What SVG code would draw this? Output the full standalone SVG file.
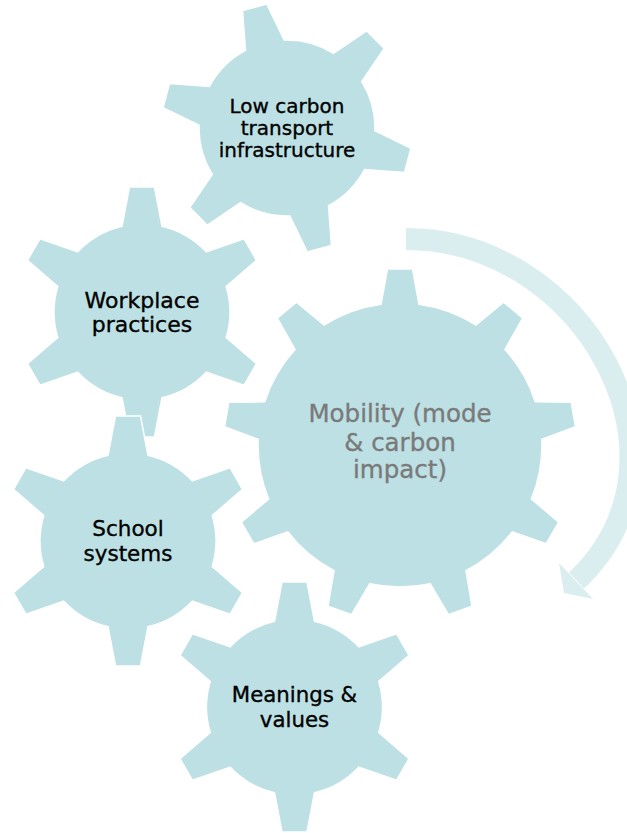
<svg xmlns="http://www.w3.org/2000/svg" xmlns:xlink="http://www.w3.org/1999/xlink" width="627" height="833" viewBox="0 0 627 833">
<style>
.gear{fill:#bce0e3;stroke:#ffffff;stroke-width:1.5}
.lbl{font-family:"DejaVu Sans","Verdana",sans-serif;fill:#000000;stroke:#000000;stroke-width:0.35;text-anchor:middle}
.lbl2{font-family:"DejaVu Sans","Verdana",sans-serif;fill:#7a7a7a;stroke:#7a7a7a;stroke-width:0.35;text-anchor:middle}
.arrow{fill:none;stroke:#daeef0;stroke-width:22}
.head{fill:#daeef0}
</style>
<defs>
<path id="g6" d="M -20,-85.7 L -12.5,-125 L 12.5,-125 L 20,-85.7 A 88 88 0 0 1 64.22,-60.17 L 102,-73.33 L 114.5,-51.68 L 84.22,-25.53 A 88 88 0 0 1 84.22,25.53 L 114.5,51.68 L 102,73.33 L 64.22,60.17 A 88 88 0 0 1 20,85.7 L 12.5,125 L -12.5,125 L -20,85.7 A 88 88 0 0 1 -64.22,60.17 L -102,73.33 L -114.5,51.68 L -84.22,25.53 A 88 88 0 0 1 -84.22,-25.53 L -114.5,-51.68 L -102,-73.33 L -64.22,-60.17 A 88 88 0 0 1 -20,-85.7 Z"/>
<path id="g9" d="M -19,-140.72 L -12.5,-176 L 12.5,-176 L 19,-140.72 A 142 142 0 0 1 75.9,-120.01 L 103.55,-142.85 L 122.71,-126.79 L 105,-95.59 A 142 142 0 0 1 135.28,-43.15 L 171.16,-42.87 L 175.5,-18.25 L 141.88,-5.73 A 142 142 0 0 1 131.37,53.91 L 158.67,77.17 L 146.17,98.83 L 112.37,86.81 A 142 142 0 0 1 65.98,125.73 L 71.95,161.11 L 48.45,169.67 L 30.28,138.73 A 142 142 0 0 1 -30.28,138.73 L -48.45,169.67 L -71.95,161.11 L -65.98,125.73 A 142 142 0 0 1 -112.37,86.81 L -146.17,98.83 L -158.67,77.17 L -131.37,53.91 A 142 142 0 0 1 -141.88,-5.73 L -175.5,-18.25 L -171.16,-42.87 L -135.28,-43.15 A 142 142 0 0 1 -105,-95.59 L -122.71,-126.79 L -103.55,-142.85 L -75.9,-120.01 A 142 142 0 0 1 -19,-140.72 Z"/>
</defs>
<g id="connectors">
<path class="arrow" d="M 406 239 C 584 239 705.9 458.2 576.5 580.5"/>
<polygon class="head" points="559,563 593,599 564,593"/>
</g>
<g id="low-carbon">
<use xlink:href="#g6" href="#g6" class="gear" transform="translate(287,128) rotate(-15)"/>
<text class="lbl" font-size="20" x="287" y="113">Low carbon</text>
<text class="lbl" font-size="20" x="287" y="135">transport</text>
<text class="lbl" font-size="20" x="287" y="157">infrastructure</text>
</g>
<g id="workplace">
<use xlink:href="#g6" href="#g6" class="gear" transform="translate(142,312)"/>
<text class="lbl" font-size="22" x="142" y="308">Workplace</text>
<text class="lbl" font-size="22" x="142" y="332">practices</text>
</g>
<g id="mobility">
<use xlink:href="#g9" href="#g9" class="gear" transform="translate(400,445)"/>
<text class="lbl2" font-size="24.5" x="400" y="422">Mobility (mode</text>
<text class="lbl2" font-size="24.5" x="400" y="450.5">&amp; carbon</text>
<text class="lbl2" font-size="24.5" x="400" y="478">impact)</text>
</g>
<g id="school">
<use xlink:href="#g6" href="#g6" class="gear" transform="translate(128,541)"/>
<text class="lbl" font-size="21.5" x="128" y="536">School</text>
<text class="lbl" font-size="21.5" x="128" y="560.5">systems</text>
</g>
<g id="meanings">
<use xlink:href="#g6" href="#g6" class="gear" transform="translate(294.5,707)"/>
<text class="lbl" font-size="21.3" x="294.5" y="701.5">Meanings &amp;</text>
<text class="lbl" font-size="21.3" x="294.5" y="726.5">values</text>
</g>
</svg>
